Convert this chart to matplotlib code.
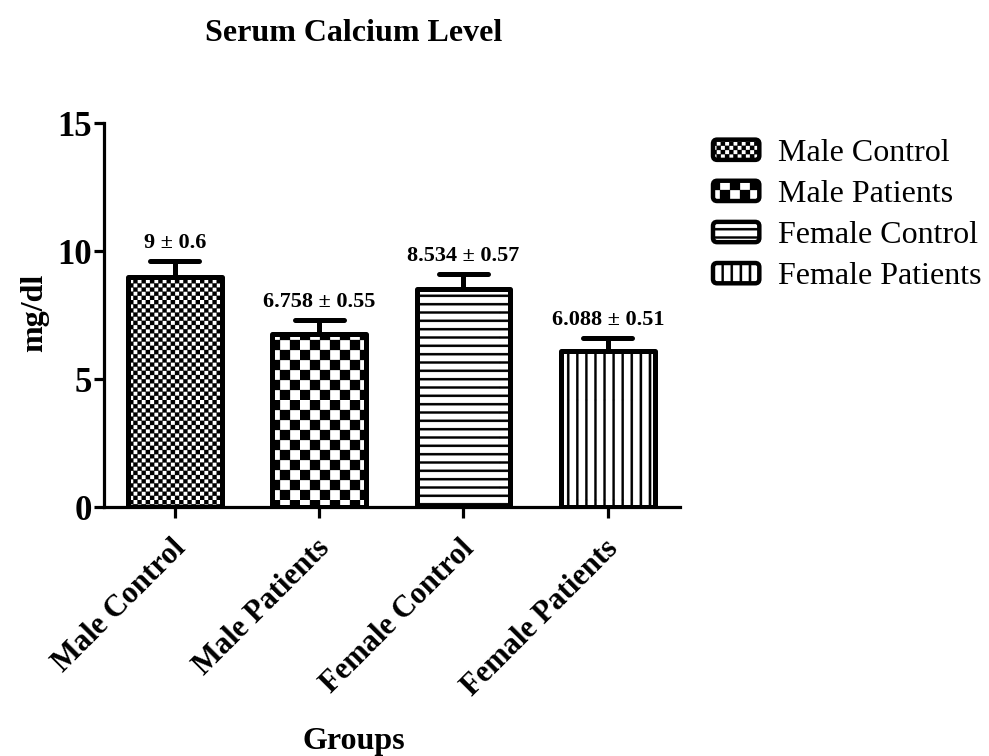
import warnings
warnings.filterwarnings("ignore")
import numpy as np
import matplotlib
matplotlib.use("Agg")
import matplotlib.pyplot as plt
from matplotlib import hatch as mhatch
from matplotlib.path import Path
from matplotlib.patches import FancyBboxPatch, Patch
from matplotlib.legend_handler import HandlerPatch
from matplotlib.transforms import ScaledTranslation

# ---------------- data ----------------
groups = ["Male Control", "Male Patients", "Female Control", "Female Patients"]
means = [9.0, 6.758, 8.534, 6.088]
sds = [0.6, 0.55, 0.57, 0.51]
value_labels = ["9 \u00b1 0.6", "6.758 \u00b1 0.55", "8.534 \u00b1 0.57", "6.088 \u00b1 0.51"]
yticks = [0, 5, 10, 15]
title = "Serum Calcium Level"
ylabel = "mg/dl"
xlabel = "Groups"

# ---------------- custom hatch patterns ----------------
class BlockHatch(mhatch.HatchPatternBase):
    """Filled-rectangle hatches: c = fine checker, k = coarse checker,
    h = horizontal stripes, v = vertical stripes."""
    def __init__(self, hatch, density):
        rects = []
        def checker(n):
            s = 1.0 / n
            for i in range(n):
                for j in range(n):
                    if (i + j) % 2 == 0:
                        rects.append((i * s, j * s, s, s))
        if 'c' in hatch:
            checker(24)
        if 'k' in hatch:
            checker(10)
        if 'h' in hatch:
            n, t = 12, 0.022
            for i in range(n):
                rects.append((0.0, (i + 0.5) / n - t / 2, 1.0, t))
        if 'v' in hatch:
            n, t = 11, 0.022
            for i in range(n):
                rects.append(((i + 0.5) / n - t / 2, 0.0, t, 1.0))
        self.rects = rects
        self.num_vertices = 5 * len(rects)

    def set_vertices_and_codes(self, vertices, codes):
        vs, cs = [], []
        for (x, y, w, h) in self.rects:
            vs.extend([(x, y), (x + w, y), (x + w, y + h), (x, y + h), (x, y)])
            cs.extend([Path.MOVETO, Path.LINETO, Path.LINETO, Path.LINETO, Path.CLOSEPOLY])
        vertices[:] = np.array(vs, dtype=float)
        codes[:] = np.array(cs, dtype=Path.code_type)

mhatch._hatch_types.append(BlockHatch)
hatches = ['c', 'k', 'h', 'v']

plt.rcParams['font.family'] = ['Liberation Serif', 'DejaVu Serif']
plt.rcParams['hatch.linewidth'] = 0.2
plt.rcParams['hatch.color'] = 'black'

W, H = 989, 756
fig = plt.figure(figsize=(W / 100, H / 100), dpi=100)
ax = fig.add_axes([104 / W, 1 - 507 / H, (680 - 104) / W, (507 - 123) / H])

x = np.arange(len(groups))
bar_w = 0.65
cap_hw = 0.17
lw = 3.6

# error bars (upper only)
ax.vlines(x, means, np.array(means) + np.array(sds), color='black', lw=lw, zorder=1)
ax.hlines(np.array(means) + np.array(sds), x - cap_hw, x + cap_hw, color='black',
          lw=lw, capstyle='round', zorder=1)

bars = ax.bar(x, means, width=bar_w, color='white', edgecolor='black', linewidth=lw,
              zorder=2)
for b, h_ in zip(bars, hatches):
    b.set_hatch(h_)
    b.set_joinstyle('round')

for xi, m, s, lab in zip(x, means, sds, value_labels):
    ax.annotate(lab, (xi, m + s), xytext=(0, 6), textcoords='offset points',
                ha='center', va='bottom', fontsize=16, fontweight='bold')

ax.set_xlim(-0.49, 3.5)
ax.set_ylim(0, 15)
ax.set_yticks(yticks)
ax.set_yticklabels([str(t) for t in yticks], fontsize=25, fontweight='bold')
ax.set_xticks(x)
ax.set_xticklabels(groups, fontsize=22, fontweight='bold', rotation=45,
                   ha='right', va='top', rotation_mode='anchor')
for sp in ['top', 'right']:
    ax.spines[sp].set_visible(False)
for sp in ['left', 'bottom']:
    ax.spines[sp].set_linewidth(2.3)
ax.tick_params(axis='both', direction='out', width=2.3, length=7, pad=2)
ax.tick_params(axis='x', length=8)
off = ScaledTranslation(-4 / 100, -13 / 100, fig.dpi_scale_trans)
for lab in ax.get_xticklabels():
    lab.set_transform(lab.get_transform() + off)

fig.text(354 / W, 1 - 41 / H, title, ha='center', va='baseline', fontsize=23,
         fontweight='bold')
fig.text(354 / W, 1 - 749 / H, xlabel, ha='center', va='baseline', fontsize=23,
         fontweight='bold')
fig.text(35 / W, 1 - 313 / H, ylabel, ha='center', va='center', rotation=90,
         fontsize=23, fontweight='bold')

# legend
handles = [Patch(facecolor='white', edgecolor='black', linewidth=3.2, hatch=h_)
           for h_ in hatches]

def rounded(legend, orig_handle, xdescent, ydescent, width, height, fontsize):
    return FancyBboxPatch((-xdescent, -ydescent), width, height,
                          boxstyle='round,pad=0,rounding_size=3')

fig.legend(handles, groups, loc='upper left', bbox_to_anchor=(713 / W, 1 - 139 / H),
           frameon=False, fontsize=23, borderpad=0, borderaxespad=0,
           handlelength=1.45, handleheight=0.6, handletextpad=0.6,
           labelspacing=0.38,
           handler_map={Patch: HandlerPatch(patch_func=rounded)})

fig.savefig('out.png', dpi=100)
